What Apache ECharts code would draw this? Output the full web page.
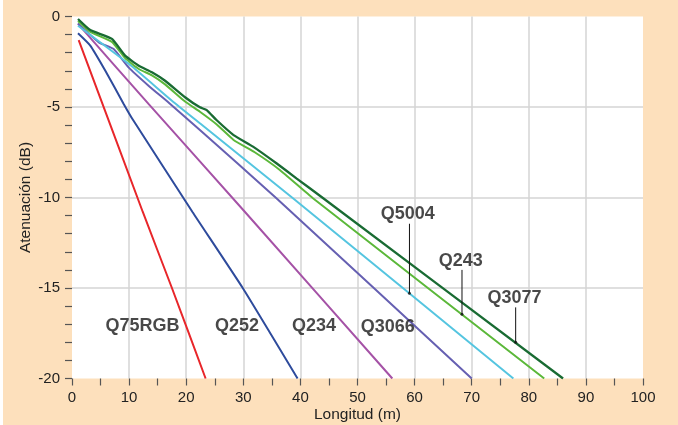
<!DOCTYPE html>
<html>
<head>
<meta charset="utf-8">
<script src="https://cdn.jsdelivr.net/npm/echarts@6/dist/echarts.min.js"></script>
<style>
html,body{margin:0;padding:0;background:#fff;}
#chart{width:678px;height:425px;}
</style>
</head>
<body>
<div id="chart"></div>
<script>
// Data (x: Longitud m, y: Atenuación dB)
const q75rgbX = [1.17, 12.4, 17.5, 23.4];
const q75rgbY = [-1.3, -10.8, -15, -20];

const q252X = [1.05, 3.2, 5.84, 9.05, 10.7, 21.1, 29.9, 39.5];
const q252Y = [-0.93, -1.61, -3.0, -4.83, -5.72, -10.8, -15, -20];

const q234X = [1.05, 13.4, 30.3, 56.1];
const q234Y = [-0.41, -4.83, -10.8, -20];

const q3066X = [1.05, 4.7, 7.3, 9.9, 13.4, 17.2, 22.4, 35.8, 70];
const q3066Y = [-0.38, -1.43, -1.8, -2.81, -3.82, -4.83, -6.27, -10.04, -20];

const q5004X = [1.05, 10.2, 17.5, 22.4, 30, 38.7, 77.3];
const q5004Y = [-0.51, -2.68, -4.65, -5.9, -7.83, -10.04, -20];

const q243X = [1.05, 3.2, 7.0, 9.3, 11.7, 14.0, 16.3, 19.8, 22.4, 25.3, 28.3, 32, 36.4, 42.2, 82.7];
const q243Y = [-0.25, -0.85, -1.4, -2.3, -2.9, -3.25, -3.75, -4.7, -5.26, -5.95, -6.82, -7.5, -8.48, -10.04, -20];

const q3077X = [1.05, 3.2, 7.0, 9.3, 11.7, 14.0, 16.3, 19.8, 22.4, 23.6, 25.3, 28.3, 31.7, 35.8, 39.3, 44.0, 86.0];
const q3077Y = [-0.14, -0.75, -1.24, -2.16, -2.72, -3.08, -3.55, -4.46, -5.02, -5.17, -5.72, -6.55, -7.19, -8.11, -8.94, -10.04, -20];

// Series labels (text, x, y in data units)
const labelNames = ['Q75RGB', 'Q252', 'Q234', 'Q3066', 'Q5004', 'Q243', 'Q3077'];
const labelX = [12.35, 28.9, 42.4, 55.3, 58.8, 68.1, 77.5];
const labelY = [-17.06, -17.06, -17.06, -17.08, -10.87, -13.45, -15.51];

// Leader lines (x, top y, bottom y)
const leaderX = [59.1, 68.3, 77.7];
const leaderTop = [-11.45, -14.0, -16.07];
const leaderBottom = [-15.29, -16.45, -18.0];

const xTicks = [0, 10, 20, 30, 40, 50, 60, 70, 80, 90, 100];
const yTicks = [0, -5, -10, -15, -20];

function pairs(xs, ys) { return xs.map((x, i) => [x, ys[i]]); }

const lineDefs = [
  { name: 'Q75RGB', x: q75rgbX, y: q75rgbY, color: '#e8262a', w: 2 },
  { name: 'Q252', x: q252X, y: q252Y, color: '#2e4b9c', w: 2 },
  { name: 'Q234', x: q234X, y: q234Y, color: '#a552a6', w: 2 },
  { name: 'Q3066', x: q3066X, y: q3066Y, color: '#6660b2', w: 2 },
  { name: 'Q5004', x: q5004X, y: q5004Y, color: '#55c5e0', w: 2 },
  { name: 'Q243', x: q243X, y: q243Y, color: '#5cb83a', w: 2 },
  { name: 'Q3077', x: q3077X, y: q3077Y, color: '#196b33', w: 2.3 }
];

const series = lineDefs.map(d => ({
  type: 'line', name: d.name, data: pairs(d.x, d.y), symbol: 'none',
  smooth: 0.15, lineStyle: { color: d.color, width: d.w }, z: 3
}));

leaderX.forEach((x, i) => {
  series.push({
    type: 'line', data: [[x, leaderTop[i]], [x, leaderBottom[i]]], symbol: 'none',
    lineStyle: { color: '#111', width: 1 }, z: 5
  });
});
series.push({
  type: 'scatter', data: leaderX.map((x, i) => [x, leaderBottom[i]]),
  symbol: 'circle', symbolSize: 3, itemStyle: { color: '#111' }, z: 6
});
series.push({
  type: 'scatter', data: labelNames.map((n, i) => [labelX[i], labelY[i], n]),
  symbolSize: 1, itemStyle: { color: 'transparent' }, z: 7,
  label: {
    show: true, position: 'inside', offset: [0, 1], formatter: p => p.data[2],
    fontFamily: 'Liberation Sans, Arial, sans-serif', fontWeight: 'bold',
    fontSize: 18, color: '#1a1a1a'
  }
});

const font = 'Liberation Sans, Arial, sans-serif';
const chart = echarts.init(document.getElementById('chart'), null, { renderer: 'canvas' });
chart.setOption({
  backgroundColor: '#fde0bc',
  animation: false,
  graphic: [{ type: 'rect', left: 0, top: 0, shape: { width: 3, height: 425 }, style: { fill: '#fff' }, z: 100 }],
  grid: {
    left: 72, right: 35, top: 16.5, bottom: 46.5, show: true, backgroundColor: '#fff', borderWidth: 0,
    containLabel: false, outerBoundsMode: 'none'
  },
  xAxis: {
    type: 'value', min: 0, max: 100, interval: 10, position: 'bottom',
    name: 'Longitud (m)', nameLocation: 'middle', nameGap: 28, nameMoveOverlap: false,
    nameTextStyle: { fontFamily: font, fontSize: 15.5, color: '#222' },
    axisLine: { show: false, onZero: false },
    axisTick: { show: true, length: 7, lineStyle: { color: '#555', width: 1.2 } },
    minorTick: { show: true, splitNumber: 2, length: 7, lineStyle: { color: '#555', width: 1.2 } },
    axisLabel: { margin: 12, fontFamily: font, fontSize: 15, color: '#222', customValues: xTicks },
    splitLine: { show: true, showMinLine: false, showMaxLine: false, lineStyle: { color: '#d4d4d4', width: 1.5 } }
  },
  yAxis: {
    type: 'value', min: -20, max: 0, interval: 5, position: 'left',
    name: 'Atenuación (dB)', nameLocation: 'middle', nameGap: 38, nameMoveOverlap: false,
    nameTextStyle: { fontFamily: font, fontSize: 15.5, color: '#222' },
    axisLine: { show: false, onZero: false },
    axisTick: { show: true, length: 7, lineStyle: { color: '#555', width: 1.2 } },
    minorTick: { show: true, splitNumber: 5, length: 7, lineStyle: { color: '#555', width: 1.2 } },
    axisLabel: { margin: 12, fontFamily: font, fontSize: 15, color: '#222', customValues: yTicks },
    splitLine: { show: true, showMinLine: false, showMaxLine: false, lineStyle: { color: '#d4d4d4', width: 1.5 } }
  },
  series: series
});
</script>
</body>
</html>
